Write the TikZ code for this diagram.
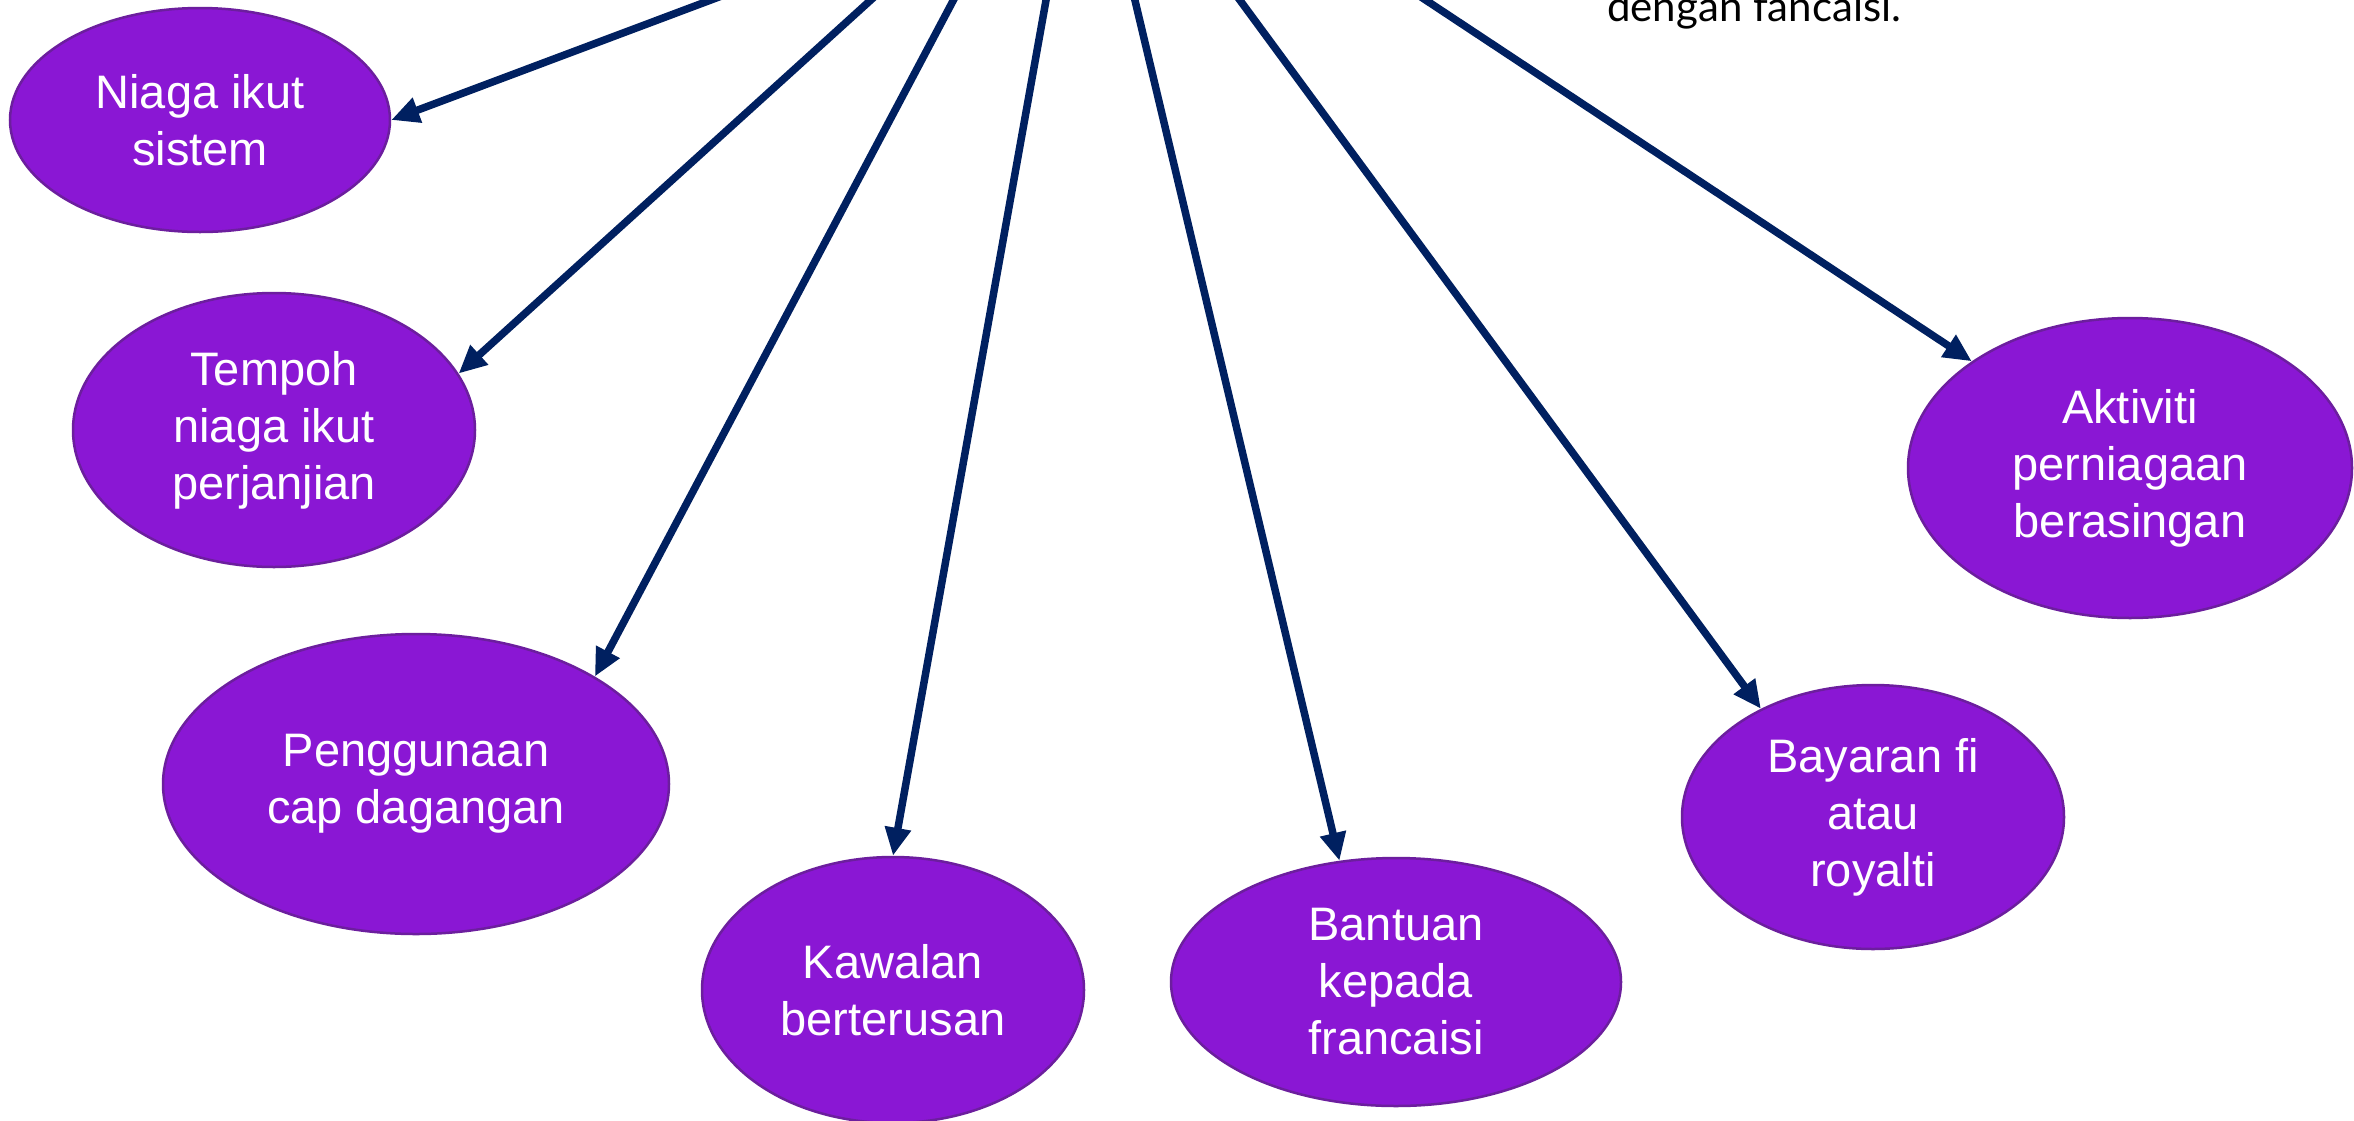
\documentclass[tikz,border=0pt]{standalone}
\usepackage{fontspec}
\setmainfont{Liberation Sans}
\newfontfamily\notefont{Lato}
\usetikzlibrary{arrows.meta,shapes.geometric}
\definecolor{bubblefill}{RGB}{138,23,212}
\definecolor{bubbleline}{RGB}{108,30,158}
\definecolor{arrowblue}{RGB}{0,32,96}
\begin{document}
\begin{tikzpicture}[x=1pt,y=-1pt,
  bubble/.style={ellipse, draw=bubbleline, line width=2.5pt, fill=bubblefill,
    text=white, inner sep=0pt, align=center,
    font=\fontsize{47}{57}\selectfont},
  link/.style={draw=arrowblue, line width=7.5pt,
    -{Triangle[length=28pt,width=25pt]}}]
\clip (0,0) rectangle (2354,1120);
\fill[white] (0,0) rectangle (2354,1120);

\node[bubble, minimum width=380pt, minimum height=224pt] (niaga) at (200,120) {Niaga ikut\\sistem};
\node[bubble, minimum width=402pt, minimum height=274pt] (tempoh) at (274,430) {Tempoh\\niaga ikut\\perjanjian};
\node[bubble, minimum width=506pt, minimum height=300pt] (pengg) at (416,784) {Penggunaan\\cap dagangan};
\node[bubble, minimum width=382pt, minimum height=266pt] (kawal) at (893,990) {Kawalan\\berterusan};
\node[bubble, minimum width=450pt, minimum height=248pt] (bantu) at (1396,982) {Bantuan\\kepada\\francaisi};
\node[bubble, minimum width=382pt, minimum height=264pt] (bayar) at (1873,817) {Bayaran fi\\atau\\royalti};
\node[bubble, minimum width=444pt, minimum height=300pt] (aktiv) at (2130,468) {Aktiviti\\perniagaan\\berasingan};

\node[anchor=base west, inner sep=0pt, font=\notefont\fontsize{42}{50}\selectfont] (note) at (1607,21) {dengan fancaisi.};

\coordinate (s1) at (844,-50);
\coordinate (s2) at (926,-50);
\coordinate (s3) at (980,-50);
\coordinate (s4) at (1055,-50);
\coordinate (s5) at (1123,-50);
\coordinate (s6) at (1203,-50);
\coordinate (s7) at (1350,-50);

\draw[link] (s1) -- (niaga.east);
\draw[link] (s2) -- (tempoh.17);
\draw[link] (s3) -- (pengg.31);
\draw[link] (s4) -- (kawal.north);
\draw[link] (s5) -- (bantu.115);
\draw[link] (s6) -- (bayar.136);
\draw[link] (s7) -- (aktiv.146);
\end{tikzpicture}
\end{document}
